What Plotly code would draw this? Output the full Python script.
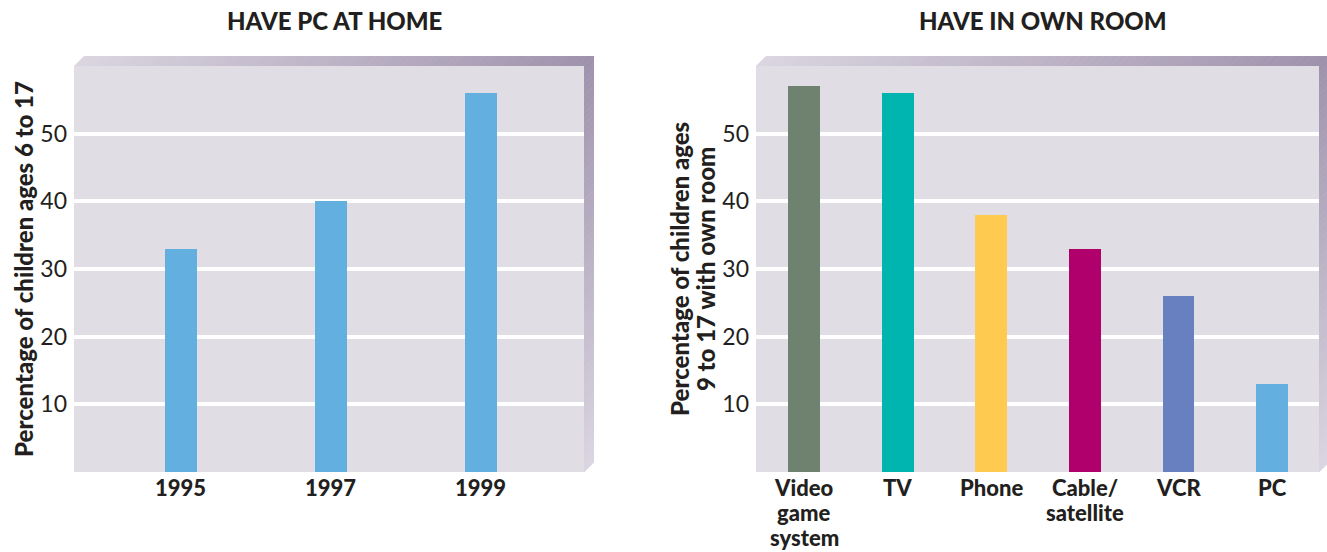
import plotly.graph_objects as go

W, H = 1327, 552

# --- data ---
years = ["1995", "1997", "1999"]
pc_at_home = [33, 40, 56]

room_items = ["Video<br>game<br>system", "TV", "Phone", "Cable/<br>satellite", "VCR", "PC"]
own_room = [57, 56, 38, 33, 26, 13]
room_colors = ["#6F8270", "#00B4B0", "#FECB50", "#B0006B", "#6880C0", "#63AFE0"]
home_color = "#63AFE0"

y_ticks = [10, 20, 30, 40, 50]

# --- styling ---
FONT = "Lato"
INK = "#231F20"
FACE = "#E0DDE5"
BEVEL_LIGHT = (218, 213, 224)
BEVEL_DARK = (159, 146, 172)
LABEL_SIZE = 22
LINE_STEP = 25  # px between stacked category label lines

# panel faces in pixels: (left, right, top, bottom)
left_face = (74, 584, 66, 472)
right_face = (756, 1319, 66, 472)
DEPTH = 10


def px(x, y):
    return x / W, 1 - y / H


def mix(c0, c1, t):
    return "rgb({},{},{})".format(*[round(a + (b - a) * t) for a, b in zip(c0, c1)])


def poly(points):
    pts = [px(x, y) for x, y in points]
    return "M " + " L ".join(f"{a:.5f},{b:.5f}" for a, b in pts) + " Z"


def bevel_shapes(face, d=DEPTH, n=70):
    x0, x1, yt, yb = face
    shapes = []
    # top edge, shading from light (left) to dark (right)
    for i in range(n):
        xa = x0 + (x1 - x0) * i / n
        xb = x0 + (x1 - x0) * (i + 1) / n + 0.6
        shapes.append(dict(type="path", xref="paper", yref="paper",
                           path=poly([(xa, yt), (xb, yt), (xb + d, yt - d), (xa + d, yt - d)]),
                           fillcolor=mix(BEVEL_LIGHT, BEVEL_DARK, (i + 0.5) / n),
                           line=dict(width=0), layer="above"))
    # right edge, shading from dark (top) to light (bottom)
    for i in range(n):
        ya = yt + (yb - yt) * i / n
        yb2 = yt + (yb - yt) * (i + 1) / n + 0.6
        shapes.append(dict(type="path", xref="paper", yref="paper",
                           path=poly([(x1, ya), (x1 + d, ya - d), (x1 + d, yb2 - d), (x1, yb2)]),
                           fillcolor=mix(BEVEL_DARK, BEVEL_LIGHT, (i + 0.5) / n),
                           line=dict(width=0), layer="above"))
    return shapes


fig = go.Figure()

fig.add_trace(go.Bar(x=years, y=pc_at_home, marker=dict(color=home_color, line=dict(width=0)),
                     width=0.213, xaxis="x", yaxis="y", hoverinfo="x+y"))
fig.add_trace(go.Bar(x=room_items, y=own_room, marker=dict(color=room_colors, line=dict(width=0)),
                     width=0.34, xaxis="x2", yaxis="y2", hoverinfo="y"))


def y_axis(face, anchor):
    return dict(domain=[1 - face[3] / H, 1 - face[2] / H], range=[0, 60], anchor=anchor,
                tickvals=y_ticks, ticktext=[str(v) for v in y_ticks],
                showgrid=True, gridcolor="white", gridwidth=4,
                zeroline=False, showline=False, ticks="", ticklabelstandoff=6,
                tickfont=dict(family=FONT, size=23, color=INK), fixedrange=True)


def x_axis(face, anchor, rng):
    # category names are written as annotations below so the stacked lines sit tight
    return dict(domain=[face[0] / W, face[1] / W], range=rng, anchor=anchor,
                type="category", showgrid=False, zeroline=False, showline=False, ticks="",
                showticklabels=False, fixedrange=True)


annotations = []
# category labels under each panel (placed at the category index on the axis)
for xref, cats, face in [("x", years, left_face), ("x2", room_items, right_face)]:
    for i, cat in enumerate(cats):
        for k, line in enumerate(cat.split("<br>")):
            annotations.append(dict(text=line, x=i, xref=xref,
                                    y=1 - (face[3] + 15 + k * LINE_STEP) / H, yref="paper",
                                    showarrow=False, xanchor="center", yanchor="middle",
                                    borderpad=0,
                                    font=dict(family=FONT, size=LABEL_SIZE, color=INK, weight=900)))
# panel headings
for text, face in [("HAVE PC AT HOME", left_face), ("HAVE IN OWN ROOM", right_face)]:
    cx = (face[0] + face[1] + DEPTH) / 2 / W
    annotations.append(dict(text=text, x=cx, y=1 - 20 / H, xref="paper", yref="paper",
                            showarrow=False, xanchor="center", yanchor="middle",
                            font=dict(family=FONT, size=24, color=INK, weight=900)))
# vertical axis titles
for text, xc in [("Percentage of children ages 6 to 17", 23),
                 ("Percentage of children ages", 679),
                 ("9 to 17 with own room", 705)]:
    annotations.append(dict(text=text, x=xc / W, y=1 - 269 / H,
                            xref="paper", yref="paper", showarrow=False, textangle=-90,
                            xanchor="center", yanchor="middle",
                            font=dict(family=FONT, size=24, color=INK, weight=900)))

fig.update_layout(
    width=W, height=H,
    margin=dict(l=0, r=0, t=0, b=0),
    paper_bgcolor="white",
    plot_bgcolor=FACE,
    showlegend=False,
    bargap=0,
    xaxis=x_axis(left_face, "y", [-0.713, 2.687]),
    yaxis=y_axis(left_face, "x"),
    xaxis2=x_axis(right_face, "y2", [-0.513, 5.5]),
    yaxis2=y_axis(right_face, "x2"),
    shapes=bevel_shapes(left_face) + bevel_shapes(right_face),
    annotations=annotations,
)

fig.write_html("out.html")
